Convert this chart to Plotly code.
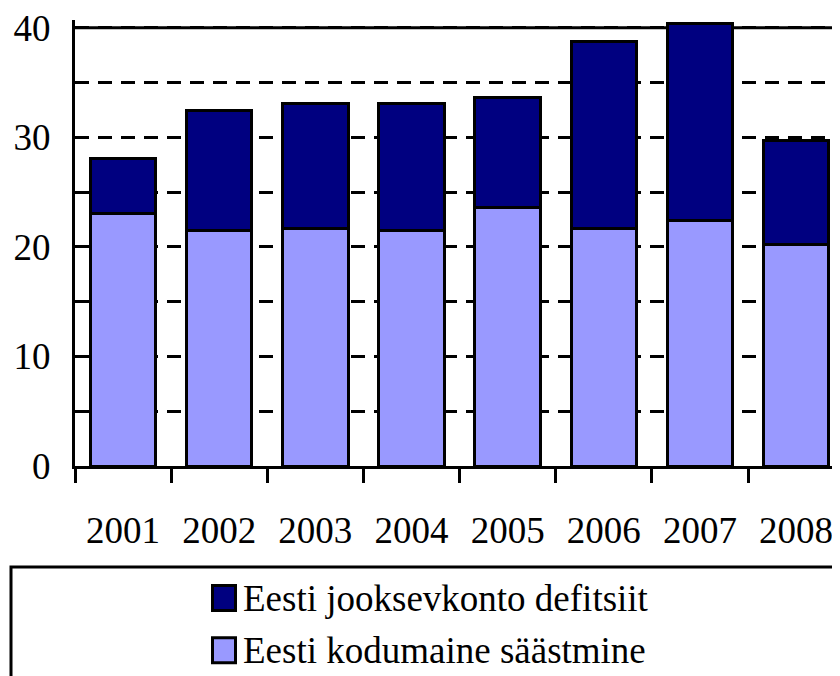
import plotly.graph_objects as go

years = ["2001", "2002", "2003", "2004", "2005", "2006", "2007", "2008"]
kodumaine = [23.0, 21.5, 21.7, 21.5, 23.6, 21.7, 22.4, 20.2]
defitsiit = [5.1, 10.9, 11.4, 11.6, 10.0, 17.0, 18.0, 9.5]
name_kod = "Eesti kodumaine säästmine"
name_def = "Eesti jooksevkonto defitsiit"
y_ticks = [0, 10, 20, 30, 40]

COL_KOD = "#9999ff"
COL_DEF = "#000080"
FONT = "'Liberation Serif', 'Times New Roman', Times, serif"

# the page body adds an 8px offset; layout is specified in window pixels
OFF = 8
W, H = 840, 676
Y_TOP = 40          # top frame line value
Y_MAX = 40.7        # axis range top (lets the 2007 bar rise above the frame)
PX_PER_UNIT = (466 - 28) / Y_TOP
ML, MR = 75 - OFF, 0
MB = H - (466 - OFF)
MT = (466 - OFF) - PX_PER_UNIT * Y_MAX
PW, PH = W - ML - MR, H - MT - MB


def px_x(p):
    return (p - OFF - ML) / PW


def px_y(p):
    return (H - MB - (p - OFF)) / PH


fig = go.Figure()
fig.add_trace(go.Bar(x=years, y=kodumaine, name=name_kod,
                     marker=dict(color=COL_KOD, line=dict(color="black", width=3)),
                     width=0.68, showlegend=False))
fig.add_trace(go.Bar(x=years, y=defitsiit, name=name_def,
                     marker=dict(color=COL_DEF, line=dict(color="black", width=3)),
                     width=0.68, showlegend=False))

shapes = [
    # top frame line at 40 (behind the bars)
    dict(type="line", xref="paper", yref="y", x0=-0.002, x1=1.0, y0=Y_TOP, y1=Y_TOP,
         line=dict(color="black", width=3), layer="between"),
    # legend box
    dict(type="rect", xref="paper", yref="paper",
         x0=px_x(11), x1=px_x(870), y0=px_y(567), y1=px_y(720),
         line=dict(color="black", width=3), fillcolor="rgba(0,0,0,0)"),
]
annotations = []
for name, col, cy in [(name_def, COL_DEF, 598), (name_kod, COL_KOD, 650)]:
    shapes.append(dict(type="rect", xref="paper", yref="paper",
                       x0=px_x(212.5), x1=px_x(235.5), y0=px_y(cy - 12.5), y1=px_y(cy + 12.5),
                       line=dict(color="black", width=3), fillcolor=col))
    annotations.append(dict(xref="paper", yref="paper", x=px_x(241), y=px_y(cy),
                            xanchor="left", yanchor="middle", showarrow=False,
                            text=name, font=dict(size=37, family=FONT, color="black")))

fig.update_layout(
    width=W, height=H,
    margin=dict(l=ML, r=MR, t=MT, b=MB, autoexpand=False),
    barmode="stack",
    plot_bgcolor="white", paper_bgcolor="white",
    font=dict(family=FONT, color="black"),
    showlegend=False,
    shapes=shapes,
    annotations=annotations,
)

fig.update_xaxes(
    type="category", range=[-0.5, 7.54], automargin=False,
    showline=True, linecolor="black", linewidth=3, mirror=False,
    ticks="outside", tickson="boundaries", ticklen=14, tickwidth=3, tickcolor="black",
    tickfont=dict(size=37, family=FONT, color="black"),
    ticklabelstandoff=30, showgrid=False, layer="below traces",
)
fig.update_yaxes(
    range=[0, Y_MAX], tickvals=y_ticks, automargin=False,
    showline=True, linecolor="black", linewidth=3, mirror=False,
    ticks="", tickfont=dict(size=37, family=FONT, color="black"),
    ticklabelstandoff=14, ticklabeloverflow="allow",
    showgrid=True, gridcolor="black", gridwidth=3, griddash="14px,9px",
    minor=dict(tickvals=[5, 15, 25, 35], showgrid=True, gridcolor="black",
               gridwidth=3, griddash="14px,9px"),
    zeroline=False, layer="below traces",
)

fig.write_html("out.html")
